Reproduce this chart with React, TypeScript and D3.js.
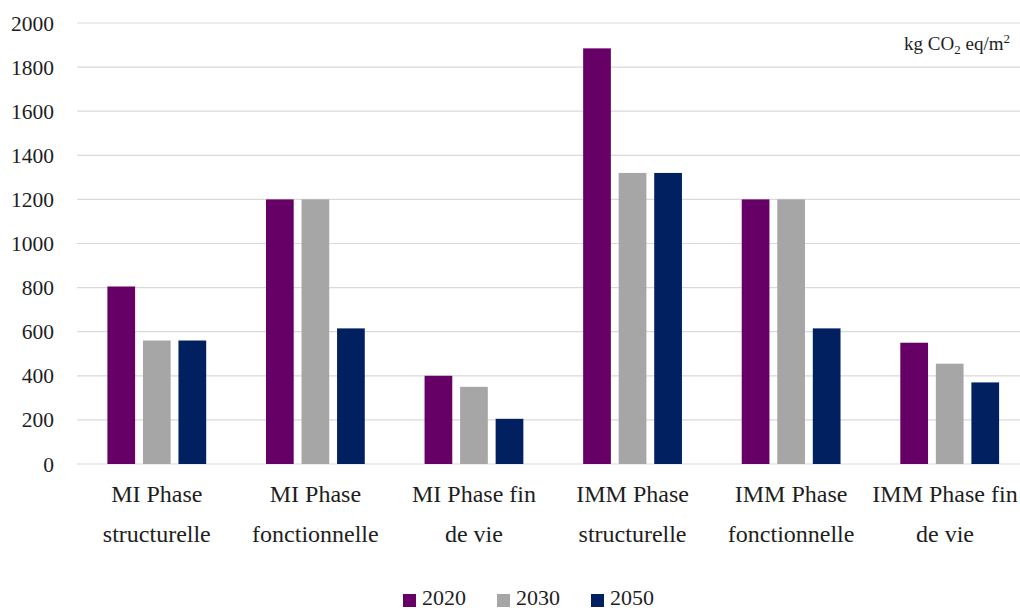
import React from "react";
import * as d3 from "d3";

const categories = [
  ["MI Phase", "structurelle"],
  ["MI Phase", "fonctionnelle"],
  ["MI Phase fin", "de vie"],
  ["IMM Phase", "structurelle"],
  ["IMM Phase", "fonctionnelle"],
  ["IMM Phase fin", "de vie"],
];
const series = ["2020", "2030", "2050"];
const values2020 = [805, 1200, 400, 1885, 1200, 550];
const values2030 = [560, 1200, 350, 1320, 1200, 455];
const values2050 = [560, 615, 205, 1320, 615, 370];
const yTicks = [0, 200, 400, 600, 800, 1000, 1200, 1400, 1600, 1800, 2000];
const colors = ["#660066", "#A6A6A6", "#002060"];

const W = 1020;
const H = 610;
const FONT = "'Liberation Serif', 'Times New Roman', serif";

export default function App() {
  const allValues = [values2020, values2030, values2050];
  const keys = categories.map((c, i) => String(i));
  const x0 = d3.scaleBand<string>().domain(keys).range([77.5, 1029]).paddingInner(0.377).paddingOuter(0.1885);
  const x1 = d3.scaleBand<string>().domain(series).range([0, x0.bandwidth()]).paddingInner(0.22).paddingOuter(0);
  const y = d3.scaleLinear().domain([0, 2000]).range([464, 23]);

  const legendX = [403, 497, 591];

  return (
    <svg width={W} height={H} style={{ position: "absolute", left: 0, top: 0, background: "#fff", fontFamily: FONT }}>
      <rect x={0} y={0} width={W} height={H} fill="#fff" />
      {yTicks.map((t) => (
        <g key={t}>
          <line x1={77} x2={W} y1={y(t)} y2={y(t)} stroke="#D9D9D9" strokeWidth={1.2} />
          <text x={54} y={y(t)} dy="0.35em" textAnchor="end" fontSize={21.5} fill="#1e1e1e">
            {t}
          </text>
        </g>
      ))}
      {keys.map((k, ci) => (
        <g key={k} transform={`translate(${x0(k)},0)`}>
          {series.map((s, si) => {
            const v = allValues[si][ci];
            return (
              <rect
                key={s}
                x={x1(s)}
                y={y(v)}
                width={x1.bandwidth()}
                height={y(0) - y(v)}
                fill={colors[si]}
              />
            );
          })}
        </g>
      ))}
      {keys.map((k, ci) => {
        const cx = Math.min((x0(k) as number) + x0.bandwidth() / 2, 945);
        return (
          <text key={k} x={cx} textAnchor="middle" fontSize={24} fill="#1e1e1e">
            <tspan x={cx} y={502}>{categories[ci][0]}</tspan>
            <tspan x={cx} y={542}>{categories[ci][1]}</tspan>
          </text>
        );
      })}
      <text x={1010} y={50} textAnchor="end" fontSize={19} fill="#1e1e1e">
        kg CO<tspan fontSize={13} dy={4}>2</tspan>
        <tspan dy={-4}> eq/m</tspan>
        <tspan fontSize={13} dy={-7}>2</tspan>
      </text>
      {series.map((s, si) => (
        <g key={s}>
          <rect x={legendX[si]} y={594} width={13} height={13} fill={colors[si]} />
          <text x={legendX[si] + 19} y={605} fontSize={22} fill="#1e1e1e">
            {s}
          </text>
        </g>
      ))}
    </svg>
  );
}
